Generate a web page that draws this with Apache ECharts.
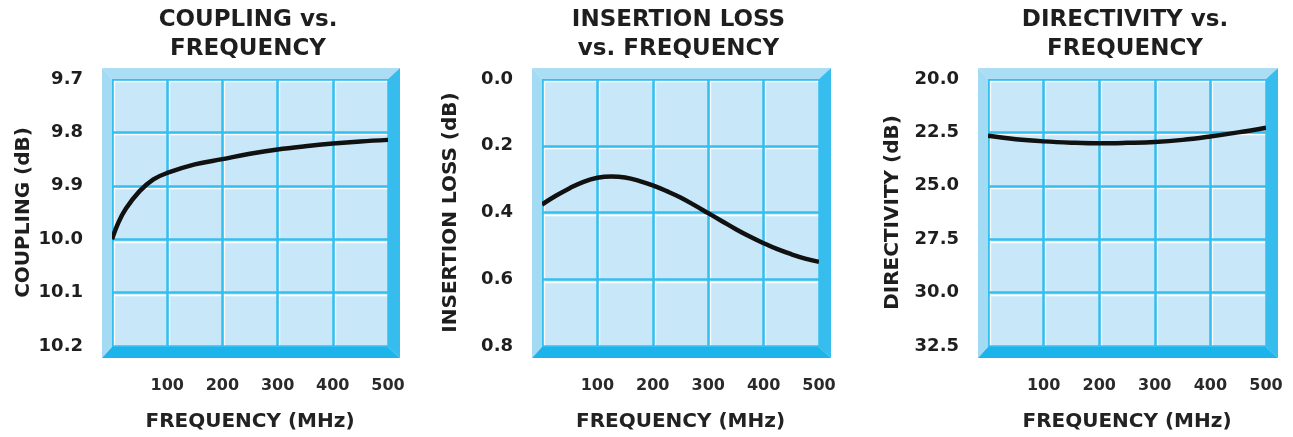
<!DOCTYPE html>
<html><head><meta charset="utf-8">
<script src="https://cdn.jsdelivr.net/npm/echarts@6/dist/echarts.min.js"></script>
<style>html,body{margin:0;padding:0;background:#fff}#c{width:1293px;height:437px}</style>
</head><body><div id="c"></div>
<script>
// ---- data ----
const freqTicks = [0, 100, 200, 300, 400, 500];

const titles = ['COUPLING vs.\nFREQUENCY', 'INSERTION LOSS\nvs. FREQUENCY', 'DIRECTIVITY vs.\nFREQUENCY'];
const yNames = ['COUPLING (dB)', 'INSERTION LOSS (dB)', 'DIRECTIVITY (dB)'];
const xName = 'FREQUENCY (MHz)';

const couplingTicks = [9.7, 9.8, 9.9, 10.0, 10.1, 10.2];
const insertionTicks = [0.0, 0.2, 0.4, 0.6, 0.8];
const directivityTicks = [20.0, 22.5, 25.0, 27.5, 30.0, 32.5];

const couplingFreq = [0, 12, 25, 50, 75, 100, 150, 200, 250, 300, 350, 400, 450, 500];
const couplingDb   = [10.0, 9.968, 9.943, 9.910, 9.888, 9.876, 9.860, 9.850, 9.840, 9.832, 9.826, 9.821, 9.817, 9.814];

const insertionFreq = [0, 25, 50, 75, 100, 125, 150, 175, 200, 225, 250, 275, 300, 325, 350, 375, 400, 425, 450, 475, 500];
const insertionDb   = [0.376, 0.350, 0.327, 0.308, 0.296, 0.292, 0.295, 0.305, 0.319, 0.336, 0.355, 0.378, 0.402, 0.426, 0.450, 0.472, 0.492, 0.510, 0.525, 0.538, 0.548];

const directivityFreq = [0, 50, 100, 150, 200, 250, 300, 350, 400, 450, 500];
const directivityDb   = [22.66, 22.82, 22.92, 22.98, 23.01, 22.99, 22.95, 22.85, 22.69, 22.50, 22.28];

// ---- layout / style ----
const FONT = 'DejaVu Sans';
const PLOT_TOP = 79, PLOT_H = 268;
const plots = [
  {left: 112, width: 276, nameGap: 78},
  {left: 542, width: 277, nameGap: 81},
  {left: 988, width: 278, nameGap: 85}
];
const panels = [
  {freq: couplingFreq, vals: couplingDb, ticks: couplingTicks},
  {freq: insertionFreq, vals: insertionDb, ticks: insertionTicks},
  {freq: directivityFreq, vals: directivityDb, ticks: directivityTicks}
];

const grid = [], xAxis = [], yAxis = [], series = [], title = [], elements = [];
panels.forEach((p, i) => {
  const pl = plots[i];
  const tMin = p.ticks[0], tMax = p.ticks[p.ticks.length - 1];
  const tInt = +(p.ticks[1] - p.ticks[0]).toFixed(3);
  const fMin = freqTicks[0], fMax = freqTicks[freqTicks.length - 1];
  const fInt = freqTicks[1] - freqTicks[0];

  grid.push({left: pl.left, top: PLOT_TOP, width: pl.width, height: PLOT_H,
    show: true, backgroundColor: '#c8e8f9', borderWidth: 0, z: 0});
  grid.push({left: pl.left + 2, top: PLOT_TOP + 2, width: pl.width, height: PLOT_H, show: false});

  xAxis.push({gridIndex: 2 * i, type: 'value', min: fMin, max: fMax, interval: fInt, z: 2,
    axisLine: {show: false}, axisTick: {show: false},
    splitLine: {show: true, lineStyle: {color: '#33bff0', width: 2.5}},
    axisLabel: {margin: 32, fontFamily: FONT, fontWeight: 'bold', fontSize: 16, color: '#2a2a2a',
      formatter: v => (v === 0 ? '' : String(v))},
    name: xName, nameLocation: 'middle', nameGap: 66,
    nameTextStyle: {fontFamily: FONT, fontWeight: 'bold', fontSize: 20, color: '#222'}});
  xAxis.push({gridIndex: 2 * i + 1, type: 'value', min: fMin, max: fMax, interval: fInt, z: 1,
    axisLine: {show: false}, axisTick: {show: false}, axisLabel: {show: false},
    splitLine: {show: true, lineStyle: {color: '#ffffff', width: 1.3}}});

  yAxis.push({gridIndex: 2 * i, type: 'value', inverse: true, min: tMin, max: tMax, interval: tInt, z: 2,
    axisLine: {show: false}, axisTick: {show: false},
    splitLine: {show: true, lineStyle: {color: '#33bff0', width: 2.5}},
    axisLabel: {margin: 29, fontFamily: FONT, fontWeight: 'bold', fontSize: 18, color: '#1e1e1e',
      formatter: v => v.toFixed(1)},
    name: yNames[i], nameLocation: 'middle', nameGap: pl.nameGap, nameRotate: 90,
    nameTextStyle: {fontFamily: FONT, fontWeight: 'bold', fontSize: 20, color: '#1e1e1e'}});
  yAxis.push({gridIndex: 2 * i + 1, type: 'value', inverse: true, min: tMin, max: tMax, interval: tInt, z: 1,
    axisLine: {show: false}, axisTick: {show: false}, axisLabel: {show: false},
    splitLine: {show: true, lineStyle: {color: '#ffffff', width: 1.3}}});

  series.push({type: 'line', xAxisIndex: 2 * i, yAxisIndex: 2 * i, z: 5,
    data: p.freq.map((f, k) => [f, p.vals[k]]),
    smooth: 0.4, showSymbol: false, symbol: 'none',
    lineStyle: {color: '#111', width: 4.5}});

  const L = pl.left, T = PLOT_TOP, R = pl.left + pl.width, B = PLOT_TOP + PLOT_H;
  const oL = L - 10, oT = T - 11, oR = R + 12, oB = B + 11;
  title.push({text: titles[i], left: (oL + oR) / 2 - 3, top: 6, textAlign: 'center', padding: 0,
    textStyle: {fontFamily: FONT, fontWeight: 'bold', fontSize: 23, lineHeight: 29, color: '#1e1e1e'}});
  elements.push(
    {type: 'polygon', z: 10, shape: {points: [[oL, oT], [oR, oT], [R, T], [L, T]]}, style: {fill: '#abddf5'}},
    {type: 'polygon', z: 10, shape: {points: [[oL, oT], [L, T], [L, B], [oL, oB]]}, style: {fill: '#a3daf4'}},
    {type: 'polygon', z: 10, shape: {points: [[oR, oT], [oR, oB], [R, B], [R, T]]}, style: {fill: '#36bdee'}},
    {type: 'polygon', z: 10, shape: {points: [[oL, oB], [L, B], [R, B], [oR, oB]]}, style: {fill: '#1db4ec'}}
  );
});

const chart = echarts.init(document.getElementById('c'), null, {renderer: 'canvas'});
chart.setOption({
  animation: false,
  backgroundColor: '#ffffff',
  title, grid, xAxis, yAxis, series,
  graphic: {elements}
});
</script>
</body></html>
